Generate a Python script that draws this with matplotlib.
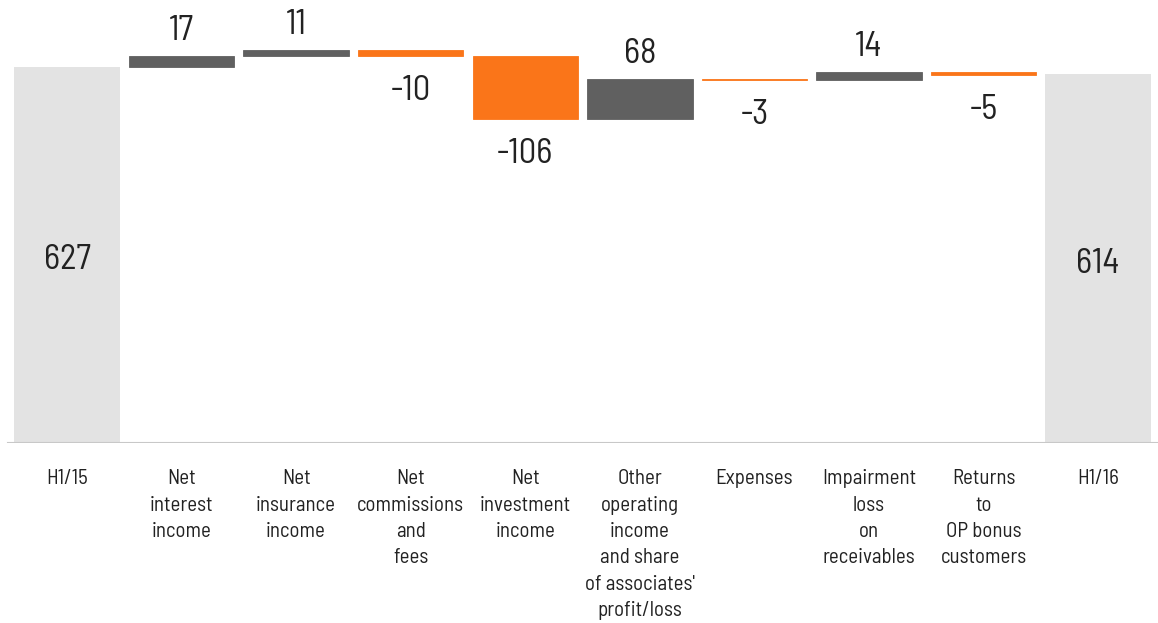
import numpy as np
from matplotlib import pyplot as plt

plt.rcParams['font.family'] = ['Barlow Semi Condensed', 'Roboto', 'DejaVu Sans']

categories = ["H1/15", "Net\ninterest\nincome", "Net\ninsurance\nincome",
              "Net\ncommissions\nand\nfees", "Net\ninvestment\nincome",
              "Other\noperating\nincome\nand share\nof associates'\nprofit/loss",
              "Expenses", "Impairment\nloss\non\nreceivables",
              "Returns\nto\nOP bonus\ncustomers", "H1/16"]
start_value = 627
changes = [17, 11, -10, -106, 68, -3, 14, -5]
end_value = 614

GREY_TOTAL = "#e3e3e3"
DARK = "#606060"
ORANGE = "#fa7519"
TEXT = "#222222"

fig = plt.figure(figsize=(11.58, 6.23), dpi=100)
ax = fig.add_axes([0, 0.2889, 1, 0.7111])

width = 0.92
x = np.arange(len(categories))

# total bars
ax.bar(x[0], start_value, width=width, color=GREY_TOTAL)
ax.bar(x[-1], end_value, width=width, color=GREY_TOTAL)
for xi, v in [(x[0], start_value), (x[-1], end_value)]:
    ax.annotate(str(v), (xi, v / 2), xytext=(0, -4), textcoords="offset points",
                ha="center", va="center", fontsize=25, color=TEXT)

# floating bars
level = start_value
for i, ch in enumerate(changes):
    xi = x[i + 1]
    bottom = level if ch > 0 else level + ch
    col = DARK if ch > 0 else ORANGE
    ax.bar(xi, abs(ch), bottom=bottom, width=width, color=col,
           edgecolor=col, linewidth=0.6)
    off = 18 if ch > 0 else -25
    ax.annotate(str(ch), (xi, level + ch), xytext=(0, off), textcoords="offset points",
                ha="center", va="center", fontsize=25, color=TEXT)
    level += ch

ax.axhline(0, xmin=0.007, xmax=1, color="#c8c8c8", linewidth=1.5)

ax.set_xlim(-0.585, 9.523)
ax.set_ylim(0, 738)
ax.set_xticks(x)
ax.set_xticklabels(categories, fontsize=15, color=TEXT, linespacing=1.49)
ax.tick_params(axis="x", length=0, pad=19)
ax.set_yticks([])
for s in ax.spines.values():
    s.set_visible(False)

fig.savefig("out.png", dpi=100)
